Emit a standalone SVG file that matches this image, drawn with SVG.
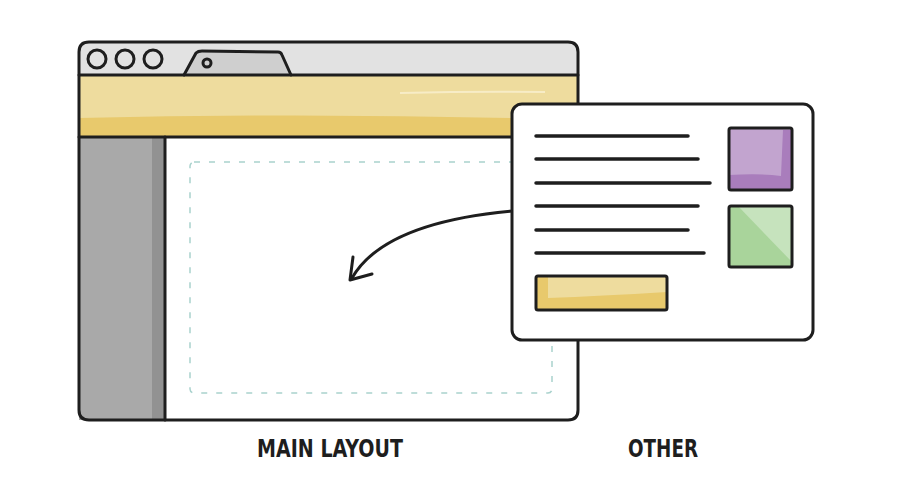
<svg xmlns="http://www.w3.org/2000/svg" width="898" height="486" viewBox="0 0 898 486">
  <defs>
    <style>
      .ink { fill: none; stroke: #1e1e1e; stroke-width: 3; stroke-linecap: round; stroke-linejoin: round; }
      .line { stroke: #1e1e1e; stroke-width: 3.5; stroke-linecap: round; }
      .label { font-family: "DejaVu Sans Condensed", "DejaVu Sans", sans-serif; font-weight: bold; font-size: 24px; fill: #1e1e1e; }
    </style>
  </defs>
  <rect width="898" height="486" fill="#ffffff"/>

  <!-- browser window: main layout -->
  <g id="main-layout">
    <path d="M79 137 H578 V410 Q578 420 568 420 H89 Q79 420 79 410 Z" fill="#ffffff"/>
    <!-- title bar -->
    <path d="M89 42 H568 Q578 42 578 52 V75 H79 V52 Q79 42 89 42 Z" fill="#e2e2e2"/>
    <!-- header band -->
    <rect x="79" y="75" width="499" height="62" fill="#eedc9e"/>
    <path d="M79 118 Q330 112 578 120 V137 H79 Z" fill="#e8c96c"/>
    <path d="M400 93 Q480 91 545 92" stroke="#f7ecc6" stroke-width="2" fill="none"/>
    <!-- sidebar -->
    <rect x="79" y="137" width="86" height="283" fill="#a9a9a9"/>
    <rect x="152" y="137" width="13" height="283" fill="#929292"/>
    <!-- window controls -->
    <circle cx="97" cy="59" r="9" class="ink"/>
    <circle cx="125" cy="59" r="9" class="ink"/>
    <circle cx="153" cy="59" r="9" class="ink"/>
    <!-- tab -->
    <path d="M184 75 L196 53 Q198 51 202 51 L278 52 Q281 52 282 55 L291 75 Z" fill="#cfcfcf"/>
    <path d="M184 75 L196 53 Q198 51 202 51 L278 52 Q281 52 282 55 L291 75" class="ink"/>
    <circle cx="207" cy="63" r="4" class="ink" stroke-width="2"/>
    <!-- dividers and outline -->
    <line x1="79" y1="75" x2="578" y2="75" class="ink"/>
    <line x1="79" y1="137" x2="578" y2="137" class="ink"/>
    <line x1="165" y1="137" x2="165" y2="420" class="ink"/>
    <path d="M89 42 H568 Q578 42 578 52 V410 Q578 420 568 420 H89 Q79 420 79 410 V52 Q79 42 89 42 Z" class="ink"/>
    <!-- content drop zone -->
    <rect x="190" y="162" width="362" height="231" rx="4" fill="none" stroke="#a9d2cd" stroke-width="1.5" stroke-dasharray="6 9"/>
  </g>

  <!-- connector -->
  <g id="connectors">
    <path d="M512 211 C435 218 375 238 352 278" class="ink" stroke-width="3.5"/>
    <path d="M353 257 L350 280 L372 274" class="ink" stroke-width="3.5"/>
  </g>

  <!-- floating card: other -->
  <g id="other">
    <rect x="512" y="104" width="301" height="236" rx="10" fill="#ffffff"/>
    <rect x="512" y="104" width="301" height="236" rx="10" class="ink"/>
    <line x1="536" y1="136" x2="688" y2="136" class="line"/>
    <line x1="536" y1="159" x2="698" y2="159" class="line"/>
    <line x1="536" y1="183" x2="710" y2="183" class="line"/>
    <line x1="536" y1="206" x2="698" y2="206" class="line"/>
    <line x1="536" y1="230" x2="688" y2="230" class="line"/>
    <line x1="536" y1="253" x2="704" y2="253" class="line"/>
    <!-- purple block -->
    <rect x="729" y="128" width="63" height="62" fill="#c2a4cf"/>
    <path d="M729 175 Q760 173 781 176 L783 130 H792 V190 H729 Z" fill="#a97dbc"/>
    <rect x="729" y="128" width="63" height="62" rx="2" class="ink"/>
    <!-- green block -->
    <rect x="729" y="206" width="63" height="61" fill="#a9d49b"/>
    <path d="M738 206 H792 V262 Z" fill="#c6e3bd"/>
    <rect x="729" y="206" width="63" height="61" rx="2" class="ink"/>
    <!-- button -->
    <rect x="536" y="276" width="131" height="34" fill="#eedc9e"/>
    <path d="M536 276 H548 V298 Q600 296 667 292 V310 H536 Z" fill="#e8c96c"/>
    <rect x="536" y="276" width="131" height="34" rx="2" class="ink"/>
  </g>

  <!-- captions -->
  <text x="257" y="457" class="label" textLength="146" lengthAdjust="spacingAndGlyphs">MAIN LAYOUT</text>
  <text x="628" y="457" class="label" textLength="70" lengthAdjust="spacingAndGlyphs">OTHER</text>
</svg>
